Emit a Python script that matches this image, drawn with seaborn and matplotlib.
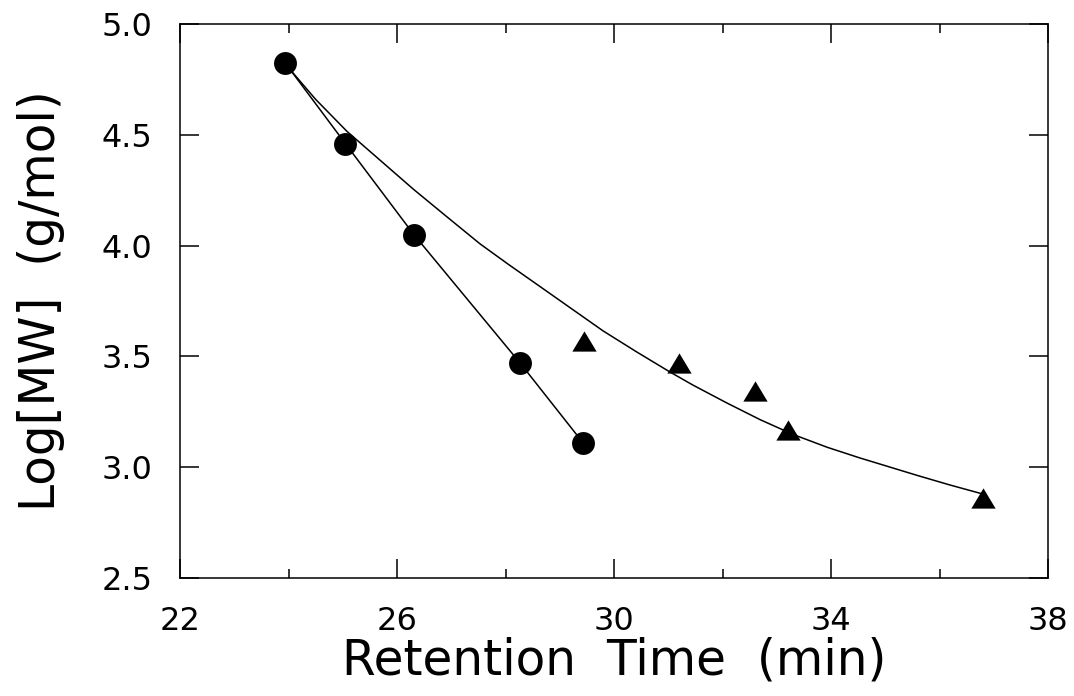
import matplotlib
matplotlib.use("Agg")
import matplotlib.pyplot as plt
import seaborn as sns
import pandas as pd
from matplotlib.ticker import MultipleLocator

# Data
circle_time = [23.94, 25.05, 26.31, 28.27, 29.43]
circle_logmw = [4.824, 4.46, 4.05, 3.47, 3.11]

triangle_time = [29.45, 31.20, 32.60, 33.21, 36.80]
triangle_logmw = [3.568, 3.472, 3.345, 3.169, 2.861]

curve_time = [23.94, 24.50, 25.08, 25.69, 26.30, 26.92, 27.53, 28.05, 28.58,
              29.19, 29.80, 30.42, 31.03, 31.46, 32.08, 32.69, 33.30, 33.93,
              34.53, 34.96, 35.59, 36.19, 36.80]
curve_logmw = [4.82, 4.66, 4.515, 4.385, 4.255, 4.13, 4.008, 3.916, 3.825,
               3.72, 3.615, 3.52, 3.43, 3.37, 3.29, 3.215, 3.148, 3.09,
               3.042, 3.01, 2.963, 2.92, 2.879]

x_ticks = [22, 26, 30, 34, 38]
y_ticks = [2.5, 3.0, 3.5, 4.0, 4.5, 5.0]

sns.set_theme(style="ticks")
plt.rcParams["font.family"] = ["DejaVu Sans"]

fig = plt.figure(figsize=(10.74, 6.96), dpi=100)
ax = fig.add_axes([0.1676, 0.1695, 0.9758 - 0.1676, 0.9655 - 0.1695])

circles = pd.DataFrame({"t": circle_time, "m": circle_logmw})
tris = pd.DataFrame({"t": triangle_time, "m": triangle_logmw})
curve = pd.DataFrame({"t": curve_time, "m": curve_logmw})

sns.lineplot(data=curve, x="t", y="m", ax=ax, color="black", linewidth=1.1,
             sort=False, estimator=None)
sns.lineplot(data=circles, x="t", y="m", ax=ax, color="black", linewidth=1.1,
             sort=False, estimator=None, marker="o", markersize=16.5,
             markeredgewidth=0, markerfacecolor="black")
tri_marker = [(0, 0.833), (-1, -0.833), (1, -0.833), (0, 0.833)]
sns.scatterplot(data=tris, x="t", y="m", ax=ax, marker=tri_marker, s=17.5**2,
                color="black", linewidth=0, zorder=5)

ax.set_xlim(22, 38)
ax.set_ylim(2.5, 5.0)
ax.set_xticks(x_ticks)
ax.set_yticks(y_ticks)
ax.set_yticklabels([f"{v:.1f}" for v in y_ticks])
ax.xaxis.set_minor_locator(MultipleLocator(2))

ax.tick_params(axis="both", which="both", direction="in", top=True, right=True,
               colors="black", width=1.1)
ax.tick_params(axis="both", which="major", length=13.5, labelsize=23, pad=20)
ax.tick_params(axis="x", which="minor", length=6.5)
for sp in ax.spines.values():
    sp.set_color("black")
    sp.set_linewidth(1.1)

ax.set_xlabel("Retention  Time  (min)", fontsize=35, color="black", labelpad=0)
ax.set_ylabel("Log[MW]  (g/mol)", fontsize=35, color="black", labelpad=26)
ax.set_facecolor("white")
fig.patch.set_facecolor("white")

fig.savefig("out.png", dpi=100, facecolor="white")
